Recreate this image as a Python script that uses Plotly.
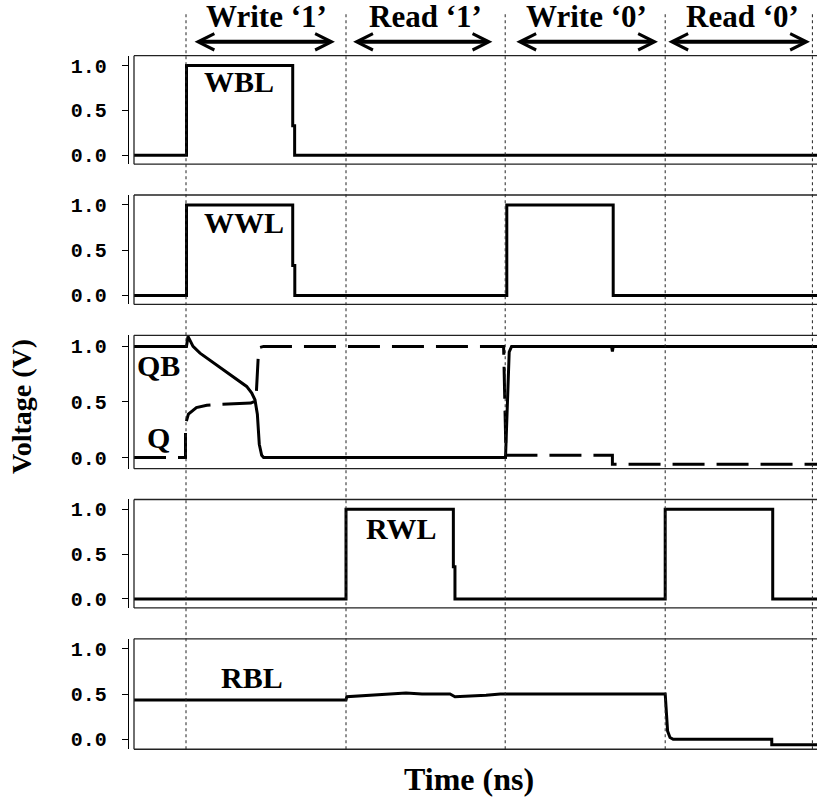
import plotly.graph_objects as go
from plotly.subplots import make_subplots

# ---- timing (ns) -----------------------------------------------------------
phase_edges = [3.25, 13.25, 23.2, 33.2, 42.4]
phase_names = ["Write ‘1’", "Read ‘1’", "Write ‘0’", "Read ‘0’"]
phase_label_t = [8.3, 18.2, 28.25, 38.0]
phase_arrow_start = [3.69, 13.6, 23.8, 33.3]
phase_arrow_end = [12.56, 22.4, 32.75, 42.25]

# ---- waveforms ---------------------------------------------------------------
wbl_t = [0, 3.28, 3.28, 9.92, 9.92, 10.04, 10.04, 42.7]
wbl_v = [0, 0, 1.0, 1.0, 0.33, 0.33, 0, 0]

wwl_t = [0, 3.28, 3.28, 9.92, 9.92, 10.05, 10.05, 23.3, 23.3, 29.95, 29.95, 42.7]
wwl_v = [0, 0, 1.0, 1.0, 0.33, 0.33, 0, 0, 1.0, 1.0, 0, 0]

qb_t = [0, 3.28, 3.375, 3.69, 4.125, 5.17, 6.19, 7.04, 7.36, 7.56, 7.71, 7.83, 7.98, 8.1,
        23.22, 23.35, 23.45, 23.6, 29.85, 29.9, 29.95, 42.7]
qb_v = [1.0, 1.0, 1.09, 1.0, 0.94, 0.83, 0.73, 0.64, 0.58, 0.52, 0.39, 0.12, 0.02, 0.0,
        0.0, 0.5, 0.95, 1.0, 1.0, 0.955, 1.0, 1.0]

q_t = [0, 3.22, 3.22, 3.4, 3.9, 4.55, 5.5, 7.3, 7.62, 7.72, 7.78, 7.85, 8.1,
       23.1, 23.2, 23.25, 29.9, 29.9, 42.7]
q_v = [0, 0, 0.30, 0.39, 0.45, 0.47, 0.48, 0.49, 0.51, 0.75, 0.95, 0.99, 1.0,
       1.0, 0.5, 0.02, 0.02, -0.06, -0.06]

rwl_t = [0, 13.25, 13.25, 19.96, 19.96, 20.06, 20.06, 33.2, 33.2, 39.92, 39.92, 42.7]
rwl_v = [0, 0, 1.0, 1.0, 0.36, 0.36, 0, 0, 1.0, 1.0, 0, 0]

rbl_t = [0, 13.25, 13.3, 14.5, 16.0, 17.0, 18.0, 19.75, 20.06, 22.0, 22.9,
         33.2, 33.35, 33.5, 33.7, 39.86, 39.86, 42.7]
rbl_v = [0.435, 0.435, 0.47, 0.48, 0.50, 0.51, 0.50, 0.50, 0.47, 0.487, 0.50,
         0.50, 0.09, 0.02, 0.0, 0.0, -0.06, -0.06]

# signal name labels: (text, panel row, t, V)
signal_labels = [("WBL", 1, 6.56, 0.82), ("WWL", 2, 6.9, 0.81), ("QB", 3, 1.56, 0.83),
                 ("Q", 3, 1.56, 0.18), ("RWL", 4, 16.7, 0.79), ("RBL", 5, 7.4, 0.68)]

tick_vals = [0.0, 0.5, 1.0]
tick_text = ["0.0", "0.5", "1.0"]

# ---- figure ------------------------------------------------------------------
W, H = 817, 801
SERIF = "Liberation Serif, Times New Roman, serif"
MONO = "Liberation Mono, Courier New, monospace"

fig = make_subplots(rows=5, cols=1, shared_xaxes=True, vertical_spacing=0.02)

solid = dict(color="black", width=3)
fig.add_trace(go.Scatter(x=wbl_t, y=wbl_v, mode="lines", line=solid), row=1, col=1)
fig.add_trace(go.Scatter(x=wwl_t, y=wwl_v, mode="lines", line=solid), row=2, col=1)
fig.add_trace(go.Scatter(x=q_t, y=q_v, mode="lines",
                         line=dict(color="black", width=3, dash="32px,12px")), row=3, col=1)
fig.add_trace(go.Scatter(x=qb_t, y=qb_v, mode="lines", line=solid), row=3, col=1)
fig.add_trace(go.Scatter(x=rwl_t, y=rwl_v, mode="lines", line=solid), row=4, col=1)
fig.add_trace(go.Scatter(x=rbl_t, y=rbl_v, mode="lines", line=solid), row=5, col=1)

# panel frames in pixel rows (top, bottom)
panel_px = [(56, 165), (196, 306), (337, 471), (502, 611), (642, 753)]
panel_ranges = [[-0.1, 1.11], [-0.1, 1.11], [-0.1, 1.1], [-0.1, 1.11], [-0.11, 1.11]]

x_left_px = 129
px_per_ns = 16.0
x_range = [(x_left_px - 134) / px_per_ns, (W - 134) / px_per_ns]

shapes = []
for i, ((top, bot), rng) in enumerate(zip(panel_px, panel_ranges), start=1):
    suffix = "" if i == 1 else str(i)
    fig.layout["yaxis" + suffix].update(
        domain=[1 - bot / H, 1 - top / H], range=rng,
        tickvals=tick_vals, ticktext=tick_text,
        ticks="outside", ticklen=6, tickwidth=1.3, tickcolor="black",
        showline=True, linecolor="black", linewidth=1.3,
        showgrid=False, zeroline=False, ticklabelstandoff=11,
        tickfont=dict(family=MONO, size=20, color="black", weight="bold"),
    )
    fig.layout["xaxis" + suffix].update(
        range=x_range, showgrid=False, zeroline=False, showline=False,
        showticklabels=False, ticks="",
    )
    yd = "y" + suffix + " domain"
    xr = "x" + suffix
    frame = dict(type="line", xref=xr, yref=yd, line=dict(color="#222", width=1.3), layer="above")
    shapes.append(dict(frame, x0=0, x1=x_range[1], y0=1, y1=1))
    shapes.append(dict(frame, x0=0, x1=x_range[1], y0=0, y1=0))
    shapes.append(dict(frame, x0=0, x1=0, y0=0, y1=1))

# dotted phase boundaries
for t in phase_edges:
    shapes.append(dict(type="line", xref="x", yref="paper", x0=t, x1=t,
                       y0=1 - 753 / H, y1=1 - 13 / H,
                       line=dict(color="#222", width=1, dash="dot"), layer="above"))

annotations = []
arrow_y = 1 - 42 / H
for name, tc, a0, a1 in zip(phase_names, phase_label_t, phase_arrow_start, phase_arrow_end):
    annotations.append(dict(x=tc, y=1 - 17 / H, xref="x", yref="paper", text=name,
                            showarrow=False, xanchor="center", yanchor="middle",
                            font=dict(family=SERIF, size=31, color="black", weight="bold")))
    annotations.append(dict(x=a1, y=arrow_y, ax=a0, ay=0, xref="x", yref="paper",
                            axref="x", ayref="pixel", text="", showarrow=True,
                            arrowhead=5, startarrowhead=5, arrowside="end+start",
                            arrowwidth=4, arrowsize=0.8, startarrowsize=0.8,
                            arrowcolor="black"))

for text, row, t, v in signal_labels:
    suffix = "" if row == 1 else str(row)
    annotations.append(dict(x=t, y=v, xref="x" + suffix, yref="y" + suffix, text=text,
                            showarrow=False, xanchor="center", yanchor="middle",
                            font=dict(family=SERIF, size=30, color="black", weight="bold")))

annotations.append(dict(x=(469 - x_left_px) / (W - x_left_px), y=1 - 783 / H,
                        xref="paper", yref="paper", text="Time (ns)", showarrow=False,
                        xanchor="center", yanchor="middle",
                        font=dict(family=SERIF, size=32, color="black", weight="bold")))
annotations.append(dict(x=(22 - x_left_px) / (W - x_left_px), y=1 - 409 / H,
                        xref="paper", yref="paper", text="Voltage (V)", textangle=-90,
                        showarrow=False, xanchor="center", yanchor="middle",
                        font=dict(family=SERIF, size=28, color="black", weight="bold")))

fig.update_layout(
    width=W, height=H, margin=dict(l=x_left_px, r=0, t=0, b=0),
    paper_bgcolor="white", plot_bgcolor="white", showlegend=False,
    shapes=shapes, annotations=annotations,
)

fig.write_html("out.html")
